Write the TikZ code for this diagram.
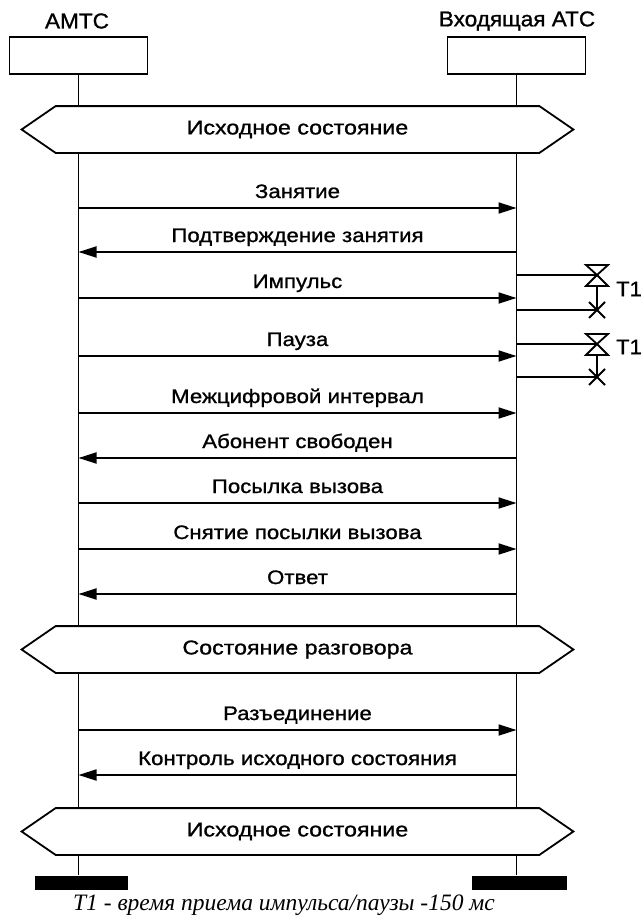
\documentclass[tikz,border=0pt]{standalone}
\usepackage{fontspec}
\setmainfont{Liberation Sans}
\newfontfamily\msgfont{Liberation Sans}[FakeStretch=1.14,FakeBold=1]
\newfontfamily\hexfont{Liberation Sans}[FakeStretch=1.16,FakeBold=1]
\newfontfamily\titfont{Liberation Sans}[FakeStretch=1.05,FakeBold=1]
\newfontfamily\capfont{Liberation Serif}
\usetikzlibrary{arrows.meta}
\begin{document}
\begin{tikzpicture}[x=1pt,y=-1pt,line width=1.8pt,
  msg/.style={-{Triangle[length=18pt,width=11pt]}},
  lbl/.style={font=\msgfont\fontsize{19.5}{22}\selectfont, anchor=base, inner sep=0pt, yshift=10pt},
  title/.style={font=\titfont\fontsize{21.5}{24}\selectfont, inner sep=0pt},
  hexnode/.style={font=\hexfont\fontsize{20}{24}\selectfont, minimum width=482pt, minimum height=45pt, inner sep=0pt},
  ent/.style={draw, minimum width=138pt, minimum height=37pt, inner sep=0pt},
  bar/.style={fill=black, minimum height=14pt, inner sep=0pt},
  tlbl/.style={font=\titfont\fontsize{21}{24}\selectfont, inner sep=0pt},
  capt/.style={font=\capfont\itshape\fontsize{23.5}{26}\selectfont, inner sep=0pt}
]
\useasboundingbox (0,0) rectangle (643,921);
\def\xL{78.5}
\def\xR{516.5}
% entities
\node[title] (tA) at (77,21) {АМТС};
\node[title] (tB) at (517,21) {Входящая АТС};
\node[ent] (boxA) at (\xL,55.5) {};
\node[ent] (boxB) at (\xR,55.5) {};
% states
\node[hexnode] (h1) at (297.5,129.5) {Исходное состояние};
\node[hexnode] (h2) at (297.5,649.5) {Состояние разговора};
\node[hexnode] (h3) at (297.5,831.5) {Исходное состояние};
\foreach \h in {h1,h2,h3}{
  \draw (\h.north west) -- (\h.north east) -- ([xshift=34pt]\h.east) -- (\h.south east)
        -- (\h.south west) -- ([xshift=-34pt]\h.west) -- cycle;
}
% bars
\node[bar, minimum width=93pt] (barA) at (81.5,883) {};
\node[bar, minimum width=95pt] (barB) at (519.5,882.5) {};
% lifelines
\draw (boxA.south) -- (boxA.south |- h1.north);
\draw (boxB.south) -- (boxB.south |- h1.north);
\draw (boxA |- h1.south) -- (boxA |- h2.north);
\draw (boxB |- h1.south) -- (boxB |- h2.north);
\draw (boxA |- h2.south) -- (boxA |- h3.north);
\draw (boxB |- h2.south) -- (boxB |- h3.north);
\draw (boxA |- h3.south) -- (boxA |- barA.north);
\draw (boxB |- h3.south) -- (boxB |- barB.north);
% messages
\foreach \n/\y/\d/\t in {
  1/208/r/Занятие,
  2/252/l/Подтверждение занятия,
  3/298/r/Импульс,
  4/356/r/Пауза,
  5/413/r/Межцифровой интервал,
  6/458/l/Абонент свободен,
  7/503/r/Посылка вызова,
  8/549/r/Снятие посылки вызова,
  9/594/l/Ответ,
  10/730/r/Разъединение,
  11/775/l/Контроль исходного состояния}{
  \coordinate (ma\n) at (\xL,\y);
  \coordinate (mb\n) at (\xR,\y);
  \if\d r
    \draw[msg] (ma\n) -- node[lbl]{\t} (mb\n);
  \else
    \draw[msg] (mb\n) -- node[lbl]{\t} (ma\n);
  \fi
}
% timers
\foreach \k/\ys/\ye/\yl in {1/275/310/289, 2/344/377/347}{
  \coordinate (ts\k) at (\xR,\ys);
  \coordinate (tc\k) at (597,\ys);
  \coordinate (tr\k) at (\xR,\ye);
  \coordinate (tx\k) at (597,\ye);
  \draw (ts\k) -- (tc\k);
  \draw[line join=miter] (tc\k) -- ++(-11,-10) -- ++(22,0) -- cycle;
  \draw[line join=miter] (tc\k) -- ++(-11,11) -- ++(22,0) -- cycle;
  \draw ([yshift=-11pt]tc\k) -- (tx\k);
  \draw (tr\k) -- (tx\k);
  \draw ([shift={(-8,-8)}]tx\k) -- ([shift={(8,8)}]tx\k);
  \draw ([shift={(-8,8)}]tx\k) -- ([shift={(8,-8)}]tx\k);
  \node[tlbl] (tl\k) at (629,\yl) {T1};
}
% caption
\node[capt] (cap) at (284,905) {T1 - время приема импульса/паузы -150 мс};
\end{tikzpicture}
\end{document}
